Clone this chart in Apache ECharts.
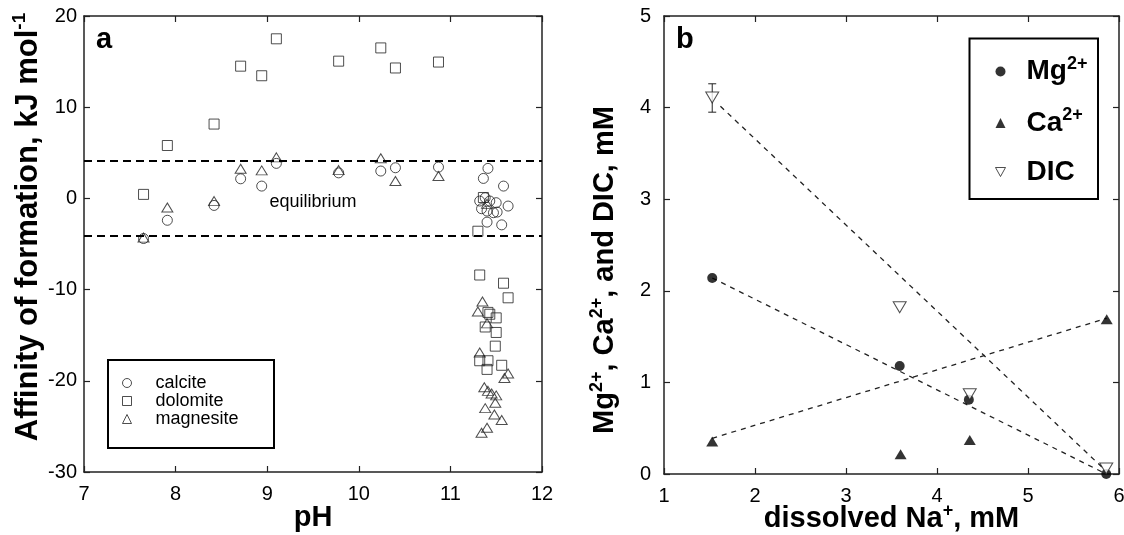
<!DOCTYPE html>
<html><head><meta charset="utf-8">
<script src="https://cdn.jsdelivr.net/npm/echarts@6/dist/echarts.min.js"></script>
<style>html,body{margin:0;padding:0;background:#fff}#c{width:1124px;height:535px}</style>
</head><body><div id="c"></div>
<script>
const FONT = '"Liberation Sans", Arial, Helvetica, sans-serif';

// ---- Panel a: affinity of formation vs pH ----
const calcitePH  = [7.65, 7.91, 8.42, 8.71, 8.94, 9.10, 9.78, 10.24, 10.40, 10.87, 11.41, 11.36, 11.58, 11.32, 11.38, 11.43, 11.50, 11.34, 11.40, 11.47, 11.51, 11.63, 11.40, 11.56];
const calciteAff = [-4.4, -2.4, -0.77, 2.15, 1.35, 3.84, 2.8, 3.0, 3.36, 3.43, 3.29, 2.19, 1.35, -0.29, 0.07, -0.29, -0.47, -1.13, -1.39, -1.57, -1.50, -0.84, -2.6, -2.9];

const dolomitePH  = [7.65, 7.91, 8.42, 8.71, 8.94, 9.10, 9.78, 10.24, 10.40, 10.87, 11.36, 11.30, 11.32, 11.58, 11.63, 11.41, 11.43, 11.50, 11.38, 11.50, 11.49, 11.32, 11.41, 11.40, 11.56];
const dolomiteAff = [0.44, 5.8, 8.15, 14.5, 13.45, 17.5, 15.05, 16.5, 14.3, 14.95, 0.1, -3.6, -8.4, -9.3, -10.9, -12.5, -12.7, -13.1, -14.1, -14.7, -16.2, -17.8, -17.8, -18.75, -18.3];

const magnesitePH  = [7.65, 7.91, 8.42, 8.71, 8.94, 9.10, 9.78, 10.24, 10.40, 10.87, 11.40, 11.35, 11.30, 11.40, 11.32, 11.63, 11.59, 11.37, 11.41, 11.45, 11.50, 11.49, 11.38, 11.48, 11.56, 11.40, 11.34];
const magnesiteAff = [-4.3, -1.0, -0.3, 3.25, 3.07, 4.5, 3.1, 4.4, 1.9, 2.45, -0.6, -11.3, -12.4, -13.7, -16.9, -19.2, -19.7, -20.7, -21.1, -21.4, -21.6, -22.4, -23.0, -23.7, -24.3, -25.15, -25.7];

const equilibriumBand = [4.15, -4.15];

// ---- Panel b: concentrations vs dissolved Na+ ----
const naMg = [1.53, 3.59, 4.35, 5.86];
const mgConc = [2.14, 1.18, 0.81, 0.0];
const naCa = [1.53, 3.60, 4.36, 5.865];
const caConc = [0.355, 0.215, 0.37, 1.69];
const naDIC = [1.53, 3.59, 4.36, 5.86];
const dicConc = [4.11, 1.82, 0.87, 0.06];
const dicErr = [[1.53, 3.95, 4.26]]; // x, low, high

const mgTrendX = [1.53, 5.86],  mgTrendY = [2.14, 0.0];
const caTrendX = [1.53, 5.865], caTrendY = [0.39, 1.70];
const dicTrendX = [1.62, 5.84], dicTrendY = [4.015, 0.05];

function zip(xs, ys) { return xs.map((x, i) => [x, ys[i]]); }

const chart = echarts.init(document.getElementById('c'), null, {renderer: 'canvas'});

const axisLine = {show: true, onZero: false, lineStyle: {color: '#222', width: 1.5}};
const axisTick = {show: true, inside: true, length: 6, lineStyle: {color: '#222', width: 1.2}};
const tickLbl = {color: '#000', fontSize: 20, fontFamily: FONT};
const mkRich = (big, small) => ({
  t: {fontSize: big, fontWeight: 'bold', fontFamily: FONT, color: '#000', lineHeight: big + 5},
  s: {fontSize: small, fontWeight: 'bold', fontFamily: FONT, color: '#000', verticalAlign: 'top', lineHeight: big + 5}
});
const mirror = (extra) => Object.assign({type: 'value', axisLine, axisTick, axisLabel: {show: false}, splitLine: {show: false}}, extra);

const openStyle = {color: 'rgba(0,0,0,0)', borderColor: '#222', borderWidth: 1};

const option = {
  animation: false,
  backgroundColor: '#fff',
  grid: [
    {left: 84, top: 16, width: 458, height: 456, containLabel: false, outerBoundsMode: 'none'},
    {left: 664, top: 16, width: 455, height: 458, containLabel: false, outerBoundsMode: 'none'}
  ],
  xAxis: [
    {gridIndex: 0, type: 'value', min: 7, max: 12, interval: 1, position: 'bottom', axisLine, axisTick,
     axisLabel: Object.assign({margin: 12}, tickLbl), splitLine: {show: false},
     name: '{t|pH}', nameLocation: 'middle', nameGap: 29, nameMoveOverlap: false, nameTextStyle: {rich: mkRich(29, 18)}},
    mirror({gridIndex: 0, min: 7, max: 12, interval: 1, position: 'top'}),
    {gridIndex: 1, type: 'value', min: 1, max: 6, interval: 1, position: 'bottom', axisLine, axisTick,
     axisLabel: Object.assign({margin: 12}, tickLbl), splitLine: {show: false},
     name: '{t|dissolved Na}{s|+}{t|, mM}', nameLocation: 'middle', nameGap: 28, nameMoveOverlap: false, nameTextStyle: {rich: mkRich(29, 18)}},
    mirror({gridIndex: 1, min: 1, max: 6, interval: 1, position: 'top'})
  ],
  yAxis: [
    {gridIndex: 0, type: 'value', min: -30, max: 20, interval: 10, position: 'left', axisLine, axisTick,
     axisLabel: Object.assign({margin: 7}, tickLbl), splitLine: {show: false},
     name: '{t|Affinity of formation, kJ mol}{s|-1}', nameLocation: 'middle', nameRotate: 90, nameGap: 36,
     nameTextStyle: {rich: mkRich(31, 19), padding: [0, 0, 0, 34]}},
    mirror({gridIndex: 0, min: -30, max: 20, interval: 10, position: 'right'}),
    {gridIndex: 1, type: 'value', min: 0, max: 5, interval: 1, position: 'left', axisLine, axisTick,
     axisLabel: Object.assign({margin: 13}, tickLbl), splitLine: {show: false},
     name: '{t|Mg}{s|2+}{t|, Ca}{s|2+}{t|, and DIC, mM}', nameLocation: 'middle', nameRotate: 90, nameGap: 42,
     nameTextStyle: {rich: mkRich(29, 18), padding: [0, 50, 0, 0]}},
    mirror({gridIndex: 1, min: 0, max: 5, interval: 1, position: 'right'})
  ],
  legend: [
    {
      orient: 'vertical', left: 117, top: 369, itemWidth: 9, itemHeight: 9, itemGap: 0, selectedMode: false,
      textStyle: {fontSize: 18, fontFamily: FONT, color: '#000', lineHeight: 16, padding: [0, 0, 0, 19]},
      data: [
        {name: 'calcite', icon: 'circle', itemStyle: openStyle},
        {name: 'dolomite', icon: 'rect', itemStyle: openStyle},
        {name: 'magnesite', icon: 'triangle', itemStyle: openStyle}
      ]
    },
    {
      orient: 'vertical', left: 990, top: 50, itemWidth: 10, itemHeight: 10, itemGap: 21, selectedMode: false,
      formatter: (n) => n === 'DIC' ? '{t|DIC}' : '{t|' + n.slice(0, 2) + '}{s|2+}',
      textStyle: {padding: [0, 0, 0, 16], rich: mkRich(28, 18)},
      data: [
        {name: 'Mg2+', icon: 'circle', itemStyle: {color: '#000', borderWidth: 0}},
        {name: 'Ca2+', icon: 'triangle', itemStyle: {color: '#000', borderWidth: 0}},
        {name: 'DIC', icon: 'path://M0,0L10,0L5,9Z', itemStyle: {color: '#fff', borderColor: '#222', borderWidth: 1}}
      ]
    }
  ],
  graphic: [
    {type: 'rect', shape: {x: 108, y: 360, width: 166, height: 88}, style: {fill: 'none', stroke: '#000', lineWidth: 2}, z: 100},
    {type: 'rect', shape: {x: 969.5, y: 38.5, width: 128.5, height: 160.5}, style: {fill: 'none', stroke: '#000', lineWidth: 2}, z: 100},
    {type: 'text', left: 96, top: 25, style: {text: 'a', font: 'bold 29px ' + FONT, fill: '#000'}},
    {type: 'text', left: 676, top: 25, style: {text: 'b', font: 'bold 29px ' + FONT, fill: '#000'}},
    {type: 'text', x: 313, y: 202, style: {text: 'equilibrium', font: '18px ' + FONT, fill: '#000', align: 'center', verticalAlign: 'middle'}}
  ],
  series: [
    {name: 'calcite', type: 'scatter', xAxisIndex: 0, yAxisIndex: 0, symbol: 'circle', symbolSize: 10,
     itemStyle: openStyle, data: zip(calcitePH, calciteAff), silent: true,
     markLine: {silent: true, symbol: ['none', 'none'], label: {show: false},
       lineStyle: {type: [8, 5], width: 2, color: '#000'},
       data: equilibriumBand.map(v => ({yAxis: v}))}},
    {name: 'dolomite', type: 'scatter', xAxisIndex: 0, yAxisIndex: 0, symbol: 'rect', symbolSize: 10,
     itemStyle: openStyle, data: zip(dolomitePH, dolomiteAff), silent: true},
    {name: 'magnesite', type: 'scatter', xAxisIndex: 0, yAxisIndex: 0, symbol: 'triangle', symbolSize: [11, 9],
     itemStyle: openStyle, data: zip(magnesitePH, magnesiteAff), silent: true},

    {name: 'mgTrend', type: 'line', xAxisIndex: 2, yAxisIndex: 2, showSymbol: false, silent: true, z: 1,
     lineStyle: {type: [5, 5], width: 1.3, color: '#222'}, data: zip(mgTrendX, mgTrendY)},
    {name: 'caTrend', type: 'line', xAxisIndex: 2, yAxisIndex: 2, showSymbol: false, silent: true, z: 1,
     lineStyle: {type: [5, 5], width: 1.3, color: '#222'}, data: zip(caTrendX, caTrendY)},
    {name: 'dicTrend', type: 'line', xAxisIndex: 2, yAxisIndex: 2, showSymbol: false, silent: true, z: 1,
     lineStyle: {type: [5, 5], width: 1.3, color: '#222'}, data: zip(dicTrendX, dicTrendY)},
    {name: 'dicErr', type: 'custom', xAxisIndex: 2, yAxisIndex: 2, silent: true, z: 2,
     encode: {x: 0, y: [1, 2]}, data: dicErr,
     renderItem: (params, api) => {
       const x = api.value(0);
       const pLo = api.coord([x, api.value(1)]), pHi = api.coord([x, api.value(2)]);
       const w = 4, st = {stroke: '#222', lineWidth: 1};
       return {type: 'group', children: [
         {type: 'line', shape: {x1: pLo[0], y1: pLo[1], x2: pHi[0], y2: pHi[1]}, style: st},
         {type: 'line', shape: {x1: pLo[0] - w, y1: pLo[1], x2: pLo[0] + w, y2: pLo[1]}, style: st},
         {type: 'line', shape: {x1: pHi[0] - w, y1: pHi[1], x2: pHi[0] + w, y2: pHi[1]}, style: st}
       ]};
     }},
    {name: 'Mg2+', type: 'scatter', xAxisIndex: 2, yAxisIndex: 2, symbol: 'circle', symbolSize: 10, z: 3,
     itemStyle: {color: '#000'}, data: zip(naMg, mgConc), silent: true},
    {name: 'Ca2+', type: 'scatter', xAxisIndex: 2, yAxisIndex: 2, symbol: 'triangle', symbolSize: [12, 10], z: 3,
     itemStyle: {color: '#000'}, data: zip(naCa, caConc), silent: true},
    {name: 'DIC', type: 'scatter', xAxisIndex: 2, yAxisIndex: 2, symbol: 'triangle', symbolRotate: 180, symbolSize: [13, 11], z: 3,
     itemStyle: {color: '#fff', borderColor: '#222', borderWidth: 1}, data: zip(naDIC, dicConc), silent: true}
  ]
};
chart.setOption(option);
</script>
</body></html>
